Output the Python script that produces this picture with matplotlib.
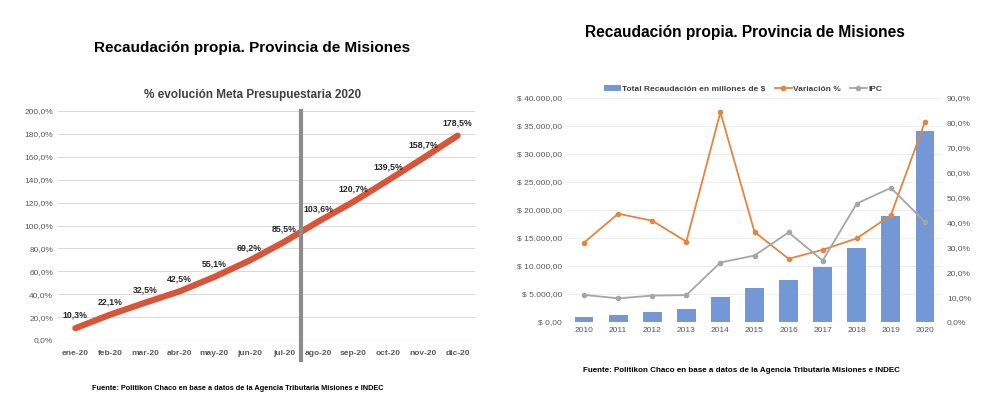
import numpy as np
import matplotlib
matplotlib.use("Agg")
import matplotlib.pyplot as plt
from matplotlib.ticker import FuncFormatter

plt.rcParams['font.family'] = ['Liberation Sans', 'DejaVu Sans']

# left chart data
months = ["ene-20", "feb-20", "mar-20", "abr-20", "may-20", "jun-20",
          "jul-20", "ago-20", "sep-20", "oct-20", "nov-20", "dic-20"]
meta_pct = [10.3, 22.1, 32.5, 42.5, 55.1, 69.2, 85.5, 103.6, 120.7, 139.5, 158.7, 178.5]

# right chart data
years = ["2010", "2011", "2012", "2013", "2014", "2015", "2016", "2017", "2018", "2019", "2020"]
recaudacion = [840, 1310, 1850, 2390, 4420, 6030, 7580, 9790, 13190, 18930, 34150]
variacion = [31.9, 43.5, 40.7, 32.3, 84.3, 36.2, 25.4, 29.0, 33.6, 42.9, 80.4]
ipc = [10.9, 9.5, 10.6, 10.8, 23.9, 26.7, 36.0, 24.7, 47.6, 53.9, 40.2]

fuente = "Fuente: Politikon Chaco en base a datos de la Agencia Tributaria Misiones e INDEC"


def comma(v, dec):
    s = f"{v:,.{dec}f}"
    return s.replace(",", "X").replace(".", ",").replace("X", ".")


fig = plt.figure(figsize=(10, 3.95), dpi=100)
fig.patch.set_facecolor("white")

# ---------- left chart ----------
fig.text(0.2525, 1 - 48 / 395, "Recaudación propia. Provincia de Misiones",
         ha="center", va="center", fontsize=11, fontweight="bold")
fig.text(0.253, 1 - 95 / 395, "% evolución Meta Presupuestaria 2020",
         ha="center", va="center", fontsize=8.5, fontweight="bold", color="#404040")

ax1 = fig.add_axes([0.058, 1 - 340 / 395, 0.417, 229 / 395])
x = np.arange(len(months))
ax1.plot(x, meta_pct, color="#D9553A", lw=4.5, solid_capstyle="round", zorder=3)
for xi, v in zip(x, meta_pct):
    ax1.annotate(comma(v, 1) + "%", (xi, v), xytext=(0, 6), textcoords="offset points",
                 ha="center", va="bottom", fontsize=6.3, fontweight="bold", color="#262626")
ax1.set_ylim(0, 200)
ax1.set_xlim(-0.5, len(months) - 0.5)
ax1.set_yticks(np.arange(0, 201, 20))
ax1.yaxis.set_major_formatter(FuncFormatter(lambda v, p: comma(v, 1) + "%"))
ax1.set_xticks(x)
ax1.set_xticklabels(months, fontweight="bold")
ax1.tick_params(axis="both", length=0, labelsize=6, colors="#595959")
ax1.tick_params(axis="x", pad=7)
ax1.grid(axis="y", color="#D9D9D9", lw=0.7)
ax1.set_axisbelow(True)
for s in ax1.spines.values():
    s.set_visible(False)
ax1.axhline(0, color="#D9D9D9", lw=0.8)
ax1.axvline(6.5, ymin=-0.087, ymax=1.0, color="#8C8C8C", lw=3, clip_on=False, zorder=4)

fig.text(0.092, 1 - 388 / 395, fuente,
         ha="left", va="center", fontsize=5.3, fontweight="bold")

# ---------- right chart ----------
fig.text(0.745, 1 - 33 / 395, "Recaudación propia. Provincia de Misiones",
         ha="center", va="center", fontsize=11.2, fontweight="bold")

ax2 = fig.add_axes([0.567, 1 - 322 / 395, 0.375, 224 / 395])
xr = np.arange(len(years))
bars = ax2.bar(xr, recaudacion, width=0.55, color="#7498D5", zorder=2,
               label="Total Recaudación en millones de $")
ax2.set_ylim(0, 40000)
ax2.set_xlim(-0.5, len(years) - 0.5)
ax2.set_yticks(np.arange(0, 40001, 5000))
ax2.yaxis.set_major_formatter(FuncFormatter(lambda v, p: "$ " + comma(v, 2)))
ax2.set_xticks(xr)
ax2.set_xticklabels(years)
ax2.tick_params(axis="both", length=0, labelsize=6, colors="#595959")
ax2.grid(axis="y", color="#EDEDED", lw=0.7)
ax2.set_axisbelow(True)
for s in ax2.spines.values():
    s.set_visible(False)
ax2.axhline(0, color="#D9D9D9", lw=0.8)

ax3 = ax2.twinx()
l1, = ax3.plot(xr, variacion, color="#E5843F", lw=1.3, marker="o", ms=3, zorder=3,
               label="Variación %")
l2, = ax3.plot(xr, ipc, color="#A6A6A6", lw=1.3, marker="o", ms=3, zorder=3,
               label="IPC")
ax3.set_ylim(0, 90)
ax3.set_yticks(np.arange(0, 91, 10))
ax3.yaxis.set_major_formatter(FuncFormatter(lambda v, p: comma(v, 1) + "%"))
ax3.tick_params(axis="both", length=0, labelsize=6, colors="#595959")
for s in ax3.spines.values():
    s.set_visible(False)

leg = ax2.legend(handles=[bars, l1, l2], loc="lower center", bbox_to_anchor=(0.47, 1.0),
                 ncol=3, frameon=False, fontsize=6, handlelength=2.0, columnspacing=1.1,
                 handletextpad=0.2, borderaxespad=0.2)
for t in leg.get_texts():
    t.set_fontweight("bold")
    t.set_color("#404040")

fig.text(0.583, 1 - 370 / 395, fuente,
         ha="left", va="center", fontsize=5.8, fontweight="bold")

fig.savefig("out.png", dpi=100, facecolor="white")
